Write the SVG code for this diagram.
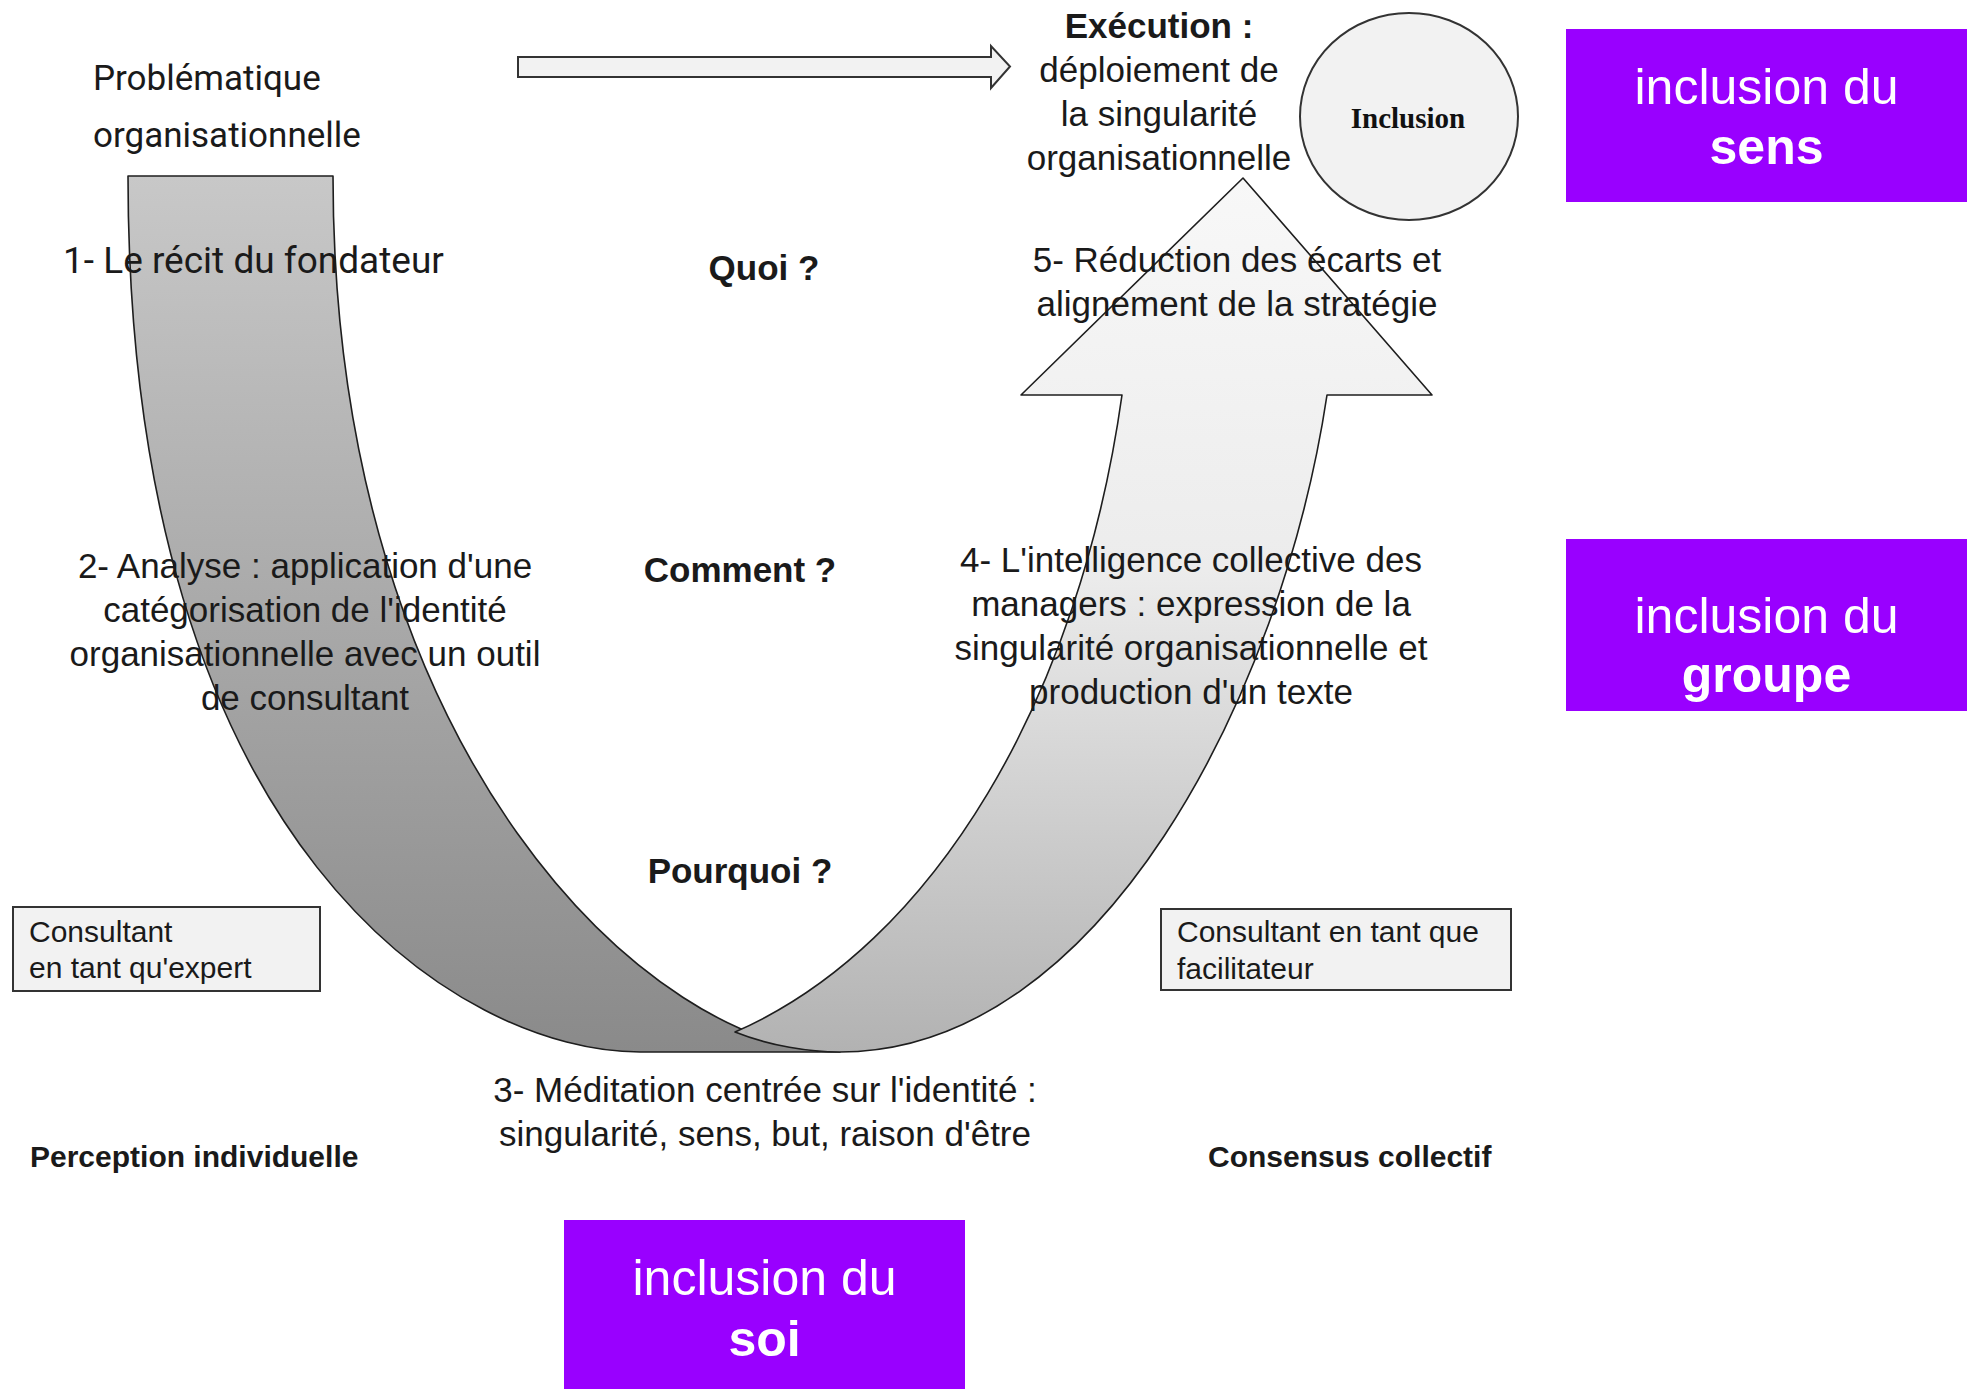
<svg xmlns="http://www.w3.org/2000/svg" width="1980" height="1389" viewBox="0 0 1980 1389">
<defs>
<linearGradient id="gDark" x1="0" y1="176" x2="0" y2="1052" gradientUnits="userSpaceOnUse">
<stop offset="0" stop-color="#c8c8c8"/>
<stop offset="1" stop-color="#8a8a8a"/>
</linearGradient>
<linearGradient id="gLight" x1="0" y1="178" x2="0" y2="1052" gradientUnits="userSpaceOnUse">
<stop offset="0" stop-color="#f8f8f8"/>
<stop offset="0.45" stop-color="#ececec"/>
<stop offset="1" stop-color="#b2b2b2"/>
</linearGradient>
</defs>
<style>
.t{font-family:"Liberation Sans",Arial,sans-serif;font-size:35px;fill:#1a1a1a}
.r{font-family:Roboto,"Liberation Sans",sans-serif;fill:#1a1a1a}
.c{text-anchor:middle}
.b{font-weight:bold}
.s{font-size:30px}
.box{fill:#f2f2f2;stroke:#333;stroke-width:2}
.band{stroke:#1e1e1e;stroke-width:1.6;stroke-linejoin:round}
.purple{fill:#9900ff}
.w{font-family:"Liberation Sans",Arial,sans-serif;font-size:50px;fill:#fff;text-anchor:middle}
</style>
<rect width="1980" height="1389" fill="#fff"/>

<g id="connectors">
<path id="top-arrow" class="box" d="M518,57 L991,57 L991,46 L1010,66.5 L991,88 L991,77 L518,77 Z"/>
<path id="band-descending" class="band" fill="url(#gDark)" d="M128,176 L333,176 C333,760 655,1052 840,1052 L640,1052 C461,1052 128,851 128,176 Z"/>
<path id="band-ascending" class="band" fill="url(#gLight)" d="M735,1032 C935,945 1080,695 1122,395 L1021,395 L1243,178 L1432,395 L1327,395 C1282,695 1100,1052 840,1052 C810,1052 770,1046 735,1032 Z"/>
</g>

<g id="node-problematique">
<text class="r" font-size="35" x="93" y="90">Problématique</text>
<text class="r" font-size="35" x="93" y="147">organisationnelle</text>
</g>

<g id="node-execution">
<text class="t c b" x="1159" y="38">Exécution :</text>
<text class="t c" x="1159" y="82">déploiement de</text>
<text class="t c" x="1159" y="126">la singularité</text>
<text class="t c" x="1159" y="170">organisationnelle</text>
</g>

<g id="node-inclusion-circle">
<ellipse cx="1409" cy="116.5" rx="109" ry="103.5" fill="#f2f2f2" stroke="#333" stroke-width="2"/>
<text x="1408" y="128" text-anchor="middle" font-family="'Liberation Serif','Times New Roman',serif" font-weight="bold" font-size="29" fill="#111">Inclusion</text>
</g>

<g id="node-sens">
<rect class="purple" x="1566" y="29" width="401" height="173"/>
<text class="w" x="1766.5" y="104">inclusion du</text>
<text class="w" x="1766.5" y="164" font-weight="bold">sens</text>
</g>

<g id="node-groupe">
<rect class="purple" x="1566" y="539" width="401" height="172"/>
<text class="w" x="1766.5" y="633">inclusion du</text>
<text class="w" x="1766.5" y="692" font-weight="bold">groupe</text>
</g>

<g id="node-soi">
<rect class="purple" x="564" y="1220" width="401" height="169"/>
<text class="w" x="764.5" y="1295">inclusion du</text>
<text class="w" x="764.5" y="1356" font-weight="bold">soi</text>
</g>

<g id="node-recit">
<text class="r" font-size="37" x="63" y="273">1- Le récit du fondateur</text>
</g>

<g id="node-quoi">
<text class="t c b" x="764" y="280">Quoi ?</text>
</g>

<g id="node-reduction">
<text class="t c" x="1237" y="272">5- Réduction des écarts et</text>
<text class="t c" x="1237" y="316">alignement de la stratégie</text>
</g>

<g id="node-analyse">
<text class="t c" x="305" y="578">2- Analyse : application d'une</text>
<text class="t c" x="305" y="622">catégorisation de l'identité</text>
<text class="t c" x="305" y="666">organisationnelle avec un outil</text>
<text class="t c" x="305" y="710">de consultant</text>
</g>

<g id="node-comment">
<text class="t c b" x="740" y="582">Comment ?</text>
</g>

<g id="node-intelligence">
<text class="t c" x="1191" y="572">4- L'intelligence collective des</text>
<text class="t c" x="1191" y="616">managers : expression de la</text>
<text class="t c" x="1191" y="660">singularité organisationnelle et</text>
<text class="t c" x="1191" y="704">production d'un texte</text>
</g>

<g id="node-pourquoi">
<text class="t c b" x="740" y="883">Pourquoi ?</text>
</g>

<g id="node-consultant-expert">
<rect class="box" x="13" y="907" width="307" height="84"/>
<text class="t s" x="29" y="942">Consultant</text>
<text class="t s" x="29" y="978">en tant qu'expert</text>
</g>

<g id="node-consultant-facilitateur">
<rect class="box" x="1161" y="909" width="350" height="81"/>
<text class="t s" x="1177" y="942">Consultant en tant que</text>
<text class="t s" x="1177" y="979">facilitateur</text>
</g>

<g id="node-meditation">
<text class="t c" x="765" y="1102">3- Méditation centrée sur l'identité :</text>
<text class="t c" x="765" y="1146">singularité, sens, but, raison d'être</text>
</g>

<g id="node-perception">
<text class="t b s" x="30" y="1167">Perception individuelle</text>
</g>

<g id="node-consensus">
<text class="t b s" x="1208" y="1167">Consensus collectif</text>
</g>
</svg>
